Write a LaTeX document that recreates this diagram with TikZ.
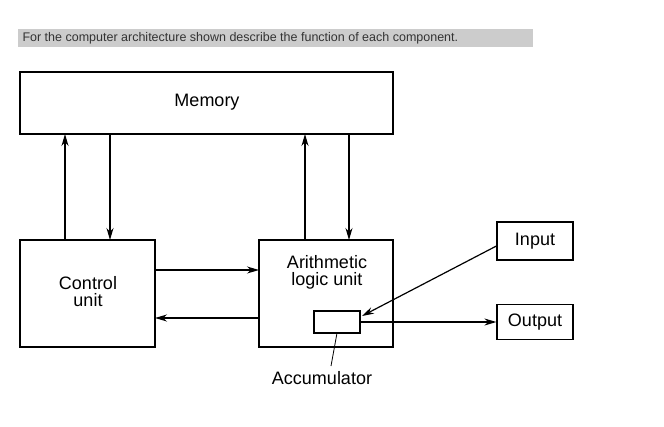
\documentclass[tikz,border=0pt]{standalone}
\usepackage{fontspec}
\setmainfont{Liberation Sans}
\usetikzlibrary{arrows.meta}
\begin{document}
\begin{tikzpicture}[x=1pt,y=-1pt,
  box/.style={draw,line width=1.2pt,inner sep=0pt},
  lab/.style={font=\fontsize{18}{19}\selectfont,align=center},
  arr/.style={line width=1.2pt,-{Stealth[length=12pt,width=7pt]}}]
\useasboundingbox (0,0) rectangle (664,426);
\fill[gray!40] (18,29) rectangle (533,47);
\node[anchor=west,font=\fontsize{12.5}{13}\selectfont,text=black!80] (hdr) at (19,38) {For the computer architecture shown describe the function of each component.};
\node[box,minimum width=373pt,minimum height=62pt] (mem) at (206.5,103) {};
\node[lab] at (207,102) {Memory};
\node[box,minimum width=135pt,minimum height=107pt] (cu) at (87.5,293.5) {};
\node[lab] at (88,292) {Control\\[-2pt]unit};
\node[box,minimum width=134pt,minimum height=107pt] (alu) at (326,293.5) {};
\node[lab] at (327,272) {Arithmetic\\[-2pt]logic unit};
\node[box,minimum width=46pt,minimum height=22pt] (acc) at (337,322) {};
\node[box,minimum width=76pt,minimum height=38pt,lab] (in) at (535,241) {Input};
\node[box,minimum width=76pt,minimum height=35pt,lab] (out) at (535,322) {Output};
\node[lab] (acclab) at (322,378) {Accumulator};
\draw[arr] (65,240) -- (65,134);
\draw[arr] (110,134) -- (110,240);
\draw[arr] (305,240) -- (305,134);
\draw[arr] (349,134) -- (349,240);
\draw[arr] (155,270) -- (259,270);
\draw[arr] (259,318) -- (155,318);
\draw[arr] (in.west) ++(0,5) -- (362,316);
\draw[arr] (acc.east) -- (out.west);
\draw[line width=0.8pt] (337,333) -- (331,366);
\end{tikzpicture}
\end{document}
